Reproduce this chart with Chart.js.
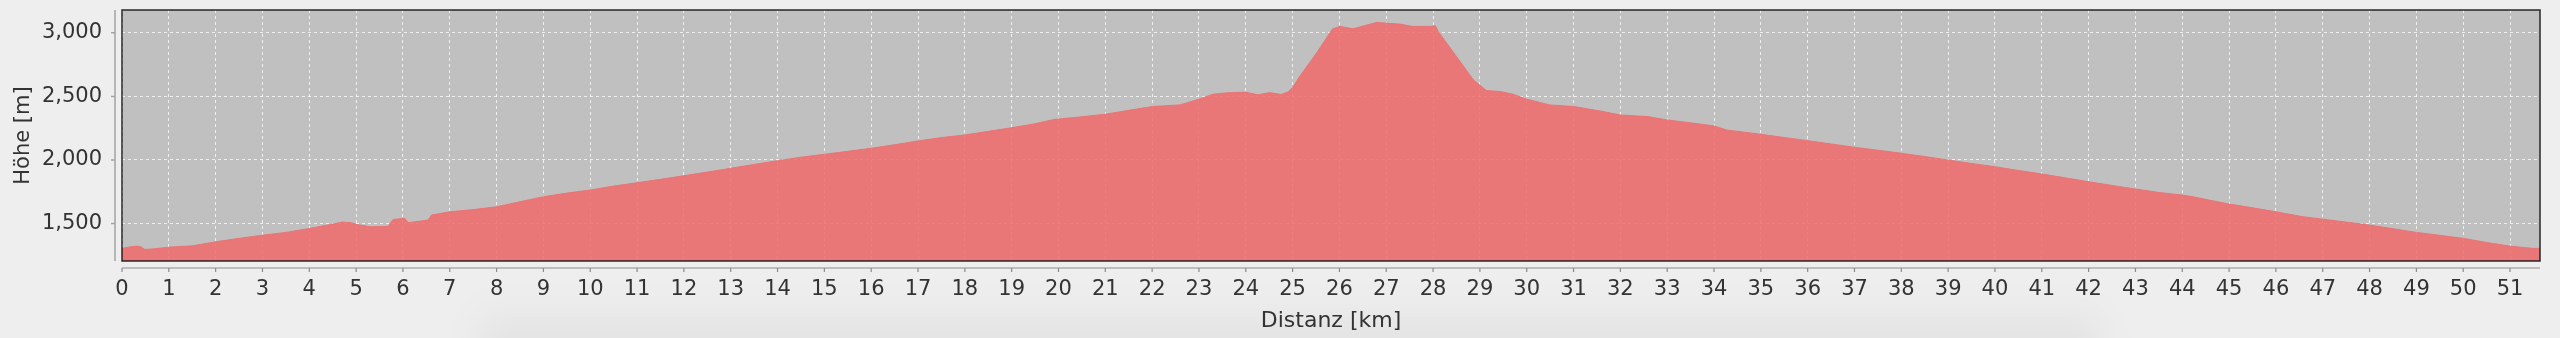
<!DOCTYPE html>
<html>
<head>
<meta charset="utf-8">
<script src="https://cdn.jsdelivr.net/npm/chart.js@4.4.1/dist/chart.umd.min.js"></script>
<style>
  html, body { margin: 0; padding: 0; background: #eeeeee; overflow: hidden; }
  #wrap { position: relative; width: 2560px; height: 338px; }
  #shade {
    position: absolute; left: 480px; top: 300px; width: 1620px; height: 60px;
    background: linear-gradient(to bottom, rgba(0,0,0,0), rgba(0,0,0,0.07));
    filter: blur(18px);
  }
  canvas { position: absolute; left: 0; top: 0; }
</style>
</head>
<body>
<div id="wrap">
  <div id="shade"></div>
  <canvas id="chart" width="2560" height="338"></canvas>
</div>
<script>
// Elevation profile data
const distanceKm = [
  0, 0.17, 0.3, 0.4, 0.49, 0.7, 1.0, 1.5, 2.0, 2.5, 3.0, 3.5, 4.0, 4.5, 4.7, 4.9,
  5.0, 5.3, 5.68, 5.79, 6.04, 6.11, 6.54, 6.61, 7.0, 7.5, 8.0, 8.5, 9.0, 9.5, 10.0,
  10.5, 11.0, 11.5, 12.0, 12.5, 13.0, 13.5, 14.0, 14.5, 15.0, 15.5, 16.0, 16.5, 17.0,
  17.5, 18.0, 18.5, 19.0, 19.5, 19.9, 20.5, 21.0, 21.5, 22.0, 22.59, 23.0, 23.3, 23.6,
  24.0, 24.26, 24.51, 24.76, 24.9, 25.0, 25.15, 25.51, 25.85, 26.01, 26.29, 26.79,
  27.0, 27.29, 27.57, 27.93, 28.05, 28.11, 28.5, 28.86, 29.14, 29.43, 29.71, 30.0,
  30.49, 31.01, 31.56, 32.0, 32.59, 33.0, 33.5, 34.0, 34.27, 35.0, 35.5, 36.0, 36.5,
  37.0, 37.5, 38.0, 38.5, 39.0, 39.5, 40.0, 40.5, 41.0, 41.5, 42.0, 42.5, 43.0, 43.5,
  44.0, 44.23, 44.6, 45.0, 45.44, 46.0, 46.58, 47.0, 47.5, 48.0, 48.5, 49.0, 49.5,
  50.0, 50.5, 51.0, 51.5, 51.64
];
const elevationM = [
  1305, 1317, 1323, 1318, 1297, 1302, 1315, 1325, 1357, 1384, 1409, 1431, 1462, 1496, 1512, 1507,
  1494, 1475, 1478, 1533, 1541, 1507, 1528, 1567, 1593, 1610, 1632, 1672, 1711, 1740, 1764,
  1795, 1821, 1848, 1876, 1905, 1935, 1965, 1995, 2022, 2045, 2068, 2092, 2120, 2150,
  2176, 2197, 2225, 2254, 2285, 2318, 2340, 2360, 2390, 2420, 2433, 2478, 2517, 2528,
  2533, 2512, 2530, 2515, 2535, 2570, 2656, 2840, 3030, 3050, 3031, 3081,
  3076, 3068, 3050, 3050, 3055, 3010, 2813, 2630, 2546, 2538, 2517, 2478,
  2433, 2420, 2386, 2354, 2341, 2315, 2292, 2268, 2236, 2202, 2177, 2152, 2126,
  2100, 2077, 2053, 2027, 2000, 1973, 1947, 1918, 1890, 1860, 1829, 1800, 1772, 1745,
  1724, 1711, 1683, 1654, 1628, 1593, 1554, 1535, 1512, 1488, 1460, 1431, 1408,
  1384, 1352, 1323, 1305, 1305
];
const xTicks = Array.from({ length: 52 }, (_, i) => i);
const yTicks = [1500, 2000, 2500, 3000];

const xRange = [0, 51.64];
const yRange = [1206, 3179];

const fontFamily = '"DejaVu Sans", sans-serif';
const textColor = '#333333';
const axisGap = 7;

// Plot background, border and the detached axis lines
const framePlugin = {
  id: 'frame',
  beforeDraw(chart) {
    const { ctx, chartArea: a } = chart;
    ctx.save();
    ctx.fillStyle = '#c0c0c0';
    ctx.fillRect(a.left, a.top, a.right - a.left, a.bottom - a.top);
    ctx.restore();
  },
  afterDatasetsDraw(chart) {
    const { ctx, chartArea: a, scales } = chart;
    ctx.save();
    ctx.strokeStyle = 'rgba(20,20,20,0.9)';
    ctx.lineWidth = 1.5;
    ctx.strokeRect(a.left, a.top, a.right - a.left, a.bottom - a.top);

    // y axis line + ticks
    const ax = a.left - axisGap;
    ctx.strokeStyle = '#a4a4a4';
    ctx.lineWidth = 1.5;
    ctx.beginPath();
    ctx.moveTo(ax, a.top);
    ctx.lineTo(ax, a.bottom);
    yTicks.forEach(v => {
      const y = scales.y.getPixelForValue(v);
      ctx.moveTo(ax, y);
      ctx.lineTo(ax - 4, y);
    });
    ctx.stroke();

    // x axis line + ticks
    const ay = a.bottom + axisGap;
    ctx.strokeStyle = '#8c8c8c';
    ctx.lineWidth = 1.2;
    ctx.beginPath();
    ctx.moveTo(a.left, ay);
    ctx.lineTo(a.right, ay);
    xTicks.forEach(v => {
      const x = scales.x.getPixelForValue(v);
      ctx.moveTo(x, ay);
      ctx.lineTo(x, ay + 4);
    });
    ctx.stroke();
    ctx.restore();
  }
};

const points = distanceKm.map((d, i) => ({ x: d, y: elevationM[i] }));

new Chart(document.getElementById('chart'), {
  type: 'line',
  data: {
    datasets: [{
      data: points,
      fill: 'start',
      backgroundColor: 'rgba(240,107,107,0.86)',
      borderColor: 'rgba(236,112,112,0.9)',
      borderWidth: 1,
      pointRadius: 0,
      tension: 0
    }]
  },
  options: {
    responsive: false,
    animation: false,
    layout: { padding: { top: 10, right: 20, left: 0, bottom: 0 } },
    plugins: {
      legend: { display: false },
      tooltip: { enabled: false }
    },
    scales: {
      x: {
        type: 'linear',
        min: xRange[0],
        max: xRange[1],
        afterBuildTicks: s => { s.ticks = xTicks.map(v => ({ value: v })); },
        afterFit: s => {
          s.height = 77;
          s.paddingLeft = 0;
          s.paddingRight = 0;
        },
        ticks: {
          autoSkip: false,
          maxRotation: 0,
          padding: 16,
          color: textColor,
          font: { family: fontFamily, size: 21 },
          callback: v => String(v)
        },
        grid: {
          color: 'rgba(255,255,255,0.75)',
          lineWidth: 1,
          drawTicks: false
        },
        border: { display: false, dash: [3, 3] },
        title: {
          display: true,
          text: 'Distanz [km]',
          color: textColor,
          font: { family: fontFamily, size: 22 },
          padding: { top: 0, bottom: 4 }
        }
      },
      y: {
        min: yRange[0],
        max: yRange[1],
        afterBuildTicks: s => { s.ticks = yTicks.map(v => ({ value: v })); },
        afterFit: s => {
          s.width = 122;
          s.paddingTop = 0;
          s.paddingBottom = 0;
        },
        ticks: {
          padding: 20,
          color: textColor,
          font: { family: fontFamily, size: 21 },
          callback: v => v.toLocaleString('en-US')
        },
        grid: {
          color: 'rgba(255,255,255,0.75)',
          lineWidth: 1,
          drawTicks: false
        },
        border: { display: false, dash: [3, 3] },
        title: {
          display: true,
          text: 'Höhe [m]',
          color: textColor,
          font: { family: fontFamily, size: 21 },
          padding: { top: 11, bottom: 0 }
        }
      }
    }
  },
  plugins: [framePlugin]
});
</script>
</body>
</html>
